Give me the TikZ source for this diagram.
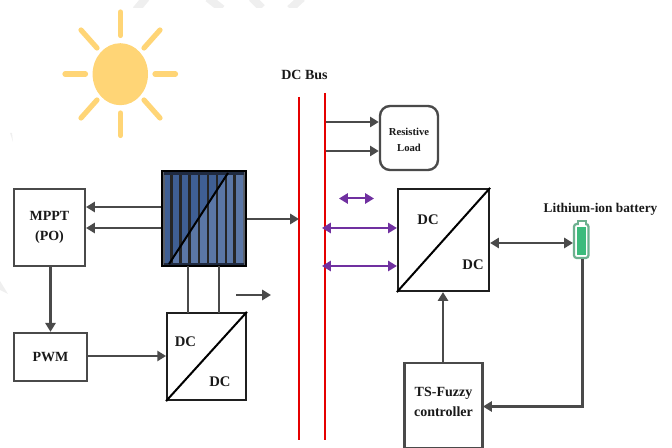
\documentclass[tikz,border=0pt]{standalone}
\usepackage{fontspec}
\setmainfont{Liberation Serif}
\usetikzlibrary{arrows.meta}
\definecolor{sunc}{HTML}{FFD576}
\definecolor{linec}{HTML}{4A4A4A}
\definecolor{purp}{HTML}{7030A0}
\definecolor{batt}{HTML}{3CBB7C}
\definecolor{battedge}{HTML}{6DB08F}
\definecolor{wm}{HTML}{EFEFEF}
\definecolor{pvdark}{HTML}{3F5F94}
\definecolor{pvlight}{HTML}{5B77A6}
\definecolor{pvframe}{HTML}{5A5F68}
\definecolor{pvband}{HTML}{1F2A40}
\tikzset{
 ray/.style={sunc,line width=5.2*0.75pt,line cap=round},
 box/.style={draw=linec,line width=2.4*0.75pt,fill=white,inner sep=0pt,font=\bfseries\fontsize{10.5pt}{15pt}\selectfont,align=center,text=black!90},
 conv/.style={draw=black!88,line width=2.2*0.75pt,fill=white,inner sep=0pt},
 wire/.style={draw=linec,line width=2.4*0.75pt},
 arr/.style={wire,-{Triangle[length=6.6pt,width=7.6pt]}},
 darr/.style={wire,{Triangle[length=6.6pt,width=7.6pt]}-{Triangle[length=6.6pt,width=7.6pt]}},
 parr/.style={draw=purp,line width=2*0.75pt,{Triangle[length=6.6pt,width=7.6pt]}-{Triangle[length=6.6pt,width=7.6pt]}},
 bus/.style={draw=red!90!black,line width=2*0.75pt},
 lbl/.style={font=\bfseries\fontsize{10pt}{12pt}\selectfont,text=black!90,inner sep=0pt},
 dclbl/.style={lbl,font=\bfseries\fontsize{11pt}{13pt}\selectfont},
 wmark/.style={wm,line width=8*0.75pt},
}
\begin{document}
\begin{tikzpicture}[x=0.75pt,y=-0.75pt]
\useasboundingbox (0,0) rectangle (672,448);
% watermark traces
\begin{scope}
\clip (0,0) rectangle (672,8);
\draw[wmark] (146,-2) -- (136,10);
\draw[wmark] (208,-2) -- (222,9);
\draw[wmark] (252,-2) -- (262,8);
\draw[wmark] (302,-2) -- (290,9);
\end{scope}
\fill[wm] (10,133) -- (13,142) -- (12,133) -- cycle;
\fill[wm] (0,281) -- (8,294) -- (0,290) -- cycle;
% sun
\fill[sunc] (120.3,74.2) ellipse (27.7 and 31);
\draw[ray] (120.5,12) -- (120.5,35.5);
\draw[ray] (120.5,113) -- (120.5,135.5);
\draw[ray] (65,74) -- (85.5,74);
\draw[ray] (155,74) -- (175.5,74);
\draw[ray] (81,30) -- (97,48);
\draw[ray] (160,30) -- (144,48);
\draw[ray] (81,118) -- (97,100);
\draw[ray] (160,118) -- (144,100);
% boxes
\node[box,minimum width=53pt,minimum height=57.75pt] (mppt) at (49.5,227.5) {MPPT\\(PO)};
\node[box,minimum width=54.75pt,minimum height=36pt] (pwm) at (50.5,357) {PWM};
\node[box,rounded corners=7.5pt,minimum width=43.5pt,minimum height=48pt,font=\bfseries\fontsize{8pt}{12pt}\selectfont] (load) at (409,138) {\rule{0pt}{9pt}Resistive\\Load};
\node[box,minimum width=58.5pt,minimum height=64pt] (ts) at (443.5,405.6) {};
\node[lbl,font=\bfseries\fontsize{10.5pt}{15pt}\selectfont,align=center] (tslbl) at (443.5,402) {TS-Fuzzy\\controller};
% panel
\node[draw=black,line width=2.2*0.75pt,fill=pvframe,minimum width=62.5pt,minimum height=71.5pt,inner sep=0pt] (pv) at (204,218.3) {};
\fill[pvdark] (165,175) -- (228,175) -- (169,263) -- (165,263) -- cycle;
\fill[pvlight] (228,175) -- (243,175) -- (243,263) -- (169,263) -- cycle;
\foreach \x in {171,180,189,198.5,207.5,216.5,225.5,234}{\draw[black!85,line width=2.2*0.75pt] (\x+0.5,175) -- (\x+0.5,263);}
\fill[pvband] (164,172) rectangle (244,175);
\fill[pvband] (164,263) rectangle (244,265.5);
\draw[black,line width=2*0.75pt] (169,264) -- (228,173);
% converters
\node[conv,minimum width=59pt,minimum height=65.25pt] (dc1) at (206.5,356.5) {};
\draw[black,line width=2*0.75pt] (dc1.south west) -- (dc1.north east);
\node[dclbl] (dc1a) at (185.5,342) {DC};
\node[dclbl] (dc1b) at (220,381.5) {DC};
\node[conv,minimum width=68.25pt,minimum height=76.5pt] (dc2) at (443.5,240) {};
\draw[black,line width=2*0.75pt] (dc2.south west) -- (dc2.north east);
\node[dclbl] (dc2a) at (428,220) {DC};
\node[dclbl] (dc2b) at (473,265) {DC};
% buses
\coordinate (b1t) at (299,97); \coordinate (b1b) at (299,440);
\coordinate (b2t) at (325,93); \coordinate (b2b) at (325,440);
\draw[bus] (b1t) -- (b1b);
\draw[bus] (b2t) -- (b2b);
\node[lbl,font=\bfseries\fontsize{10.5pt}{13pt}\selectfont] (buslbl) at (304.5,74.5) {DC Bus};
% battery
\draw[draw=battedge,line width=2.2*0.75pt,fill=white,rounded corners=2pt] (574,224) rectangle (588.5,258);
\fill[battedge] (577,220) rectangle (586.5,225);
\fill[white] (579,222) rectangle (584.5,226);
\node[fill=batt,minimum width=7pt,minimum height=21pt,inner sep=0pt] (bat) at (581.3,241) {};
\node[lbl] (batlbl) at (600.5,209.5) {Lithium-ion battery};
% connectors
\draw[arr] (pv.west |- 0,207) -- (mppt.east |- 0,207);
\draw[arr] (pv.west |- 0,228) -- (mppt.east |- 0,228);
\draw[arr] (pv.east |- 0,219) -- (299,219);
\draw[wire] (188,266) -- (188,313);
\draw[wire] (219,266) -- (219,313);
\coordinate (s1) at (236,295); \coordinate (s2) at (271,295);
\draw[arr] (s1) -- (s2);
\draw[arr] (50.5,266) -- (pwm.north);
\draw[arr] (pwm.east |- 0,356) -- (dc1.west |- 0,356);
\draw[arr] (326,122) -- (load.west |- 0,122);
\draw[arr] (326,151) -- (load.west |- 0,151);
\coordinate (p1) at (339,198.5); \coordinate (p2) at (374,198.5);
\draw[parr] (p1) -- (p2);
\draw[parr] (322,228) -- (dc2.west |- 0,228);
\draw[parr] (322,266) -- (dc2.west |- 0,266);
\draw[darr] (dc2.east |- 0,243) -- (573,243);
\draw[wire] (582.5,259) -- (582.5,406.5);
\draw[arr] (583.7,406.5) -- (483,406.5);
\draw[arr] (ts.north -| 443,0) -- (dc2.south -| 443,0);
\end{tikzpicture}
\end{document}
